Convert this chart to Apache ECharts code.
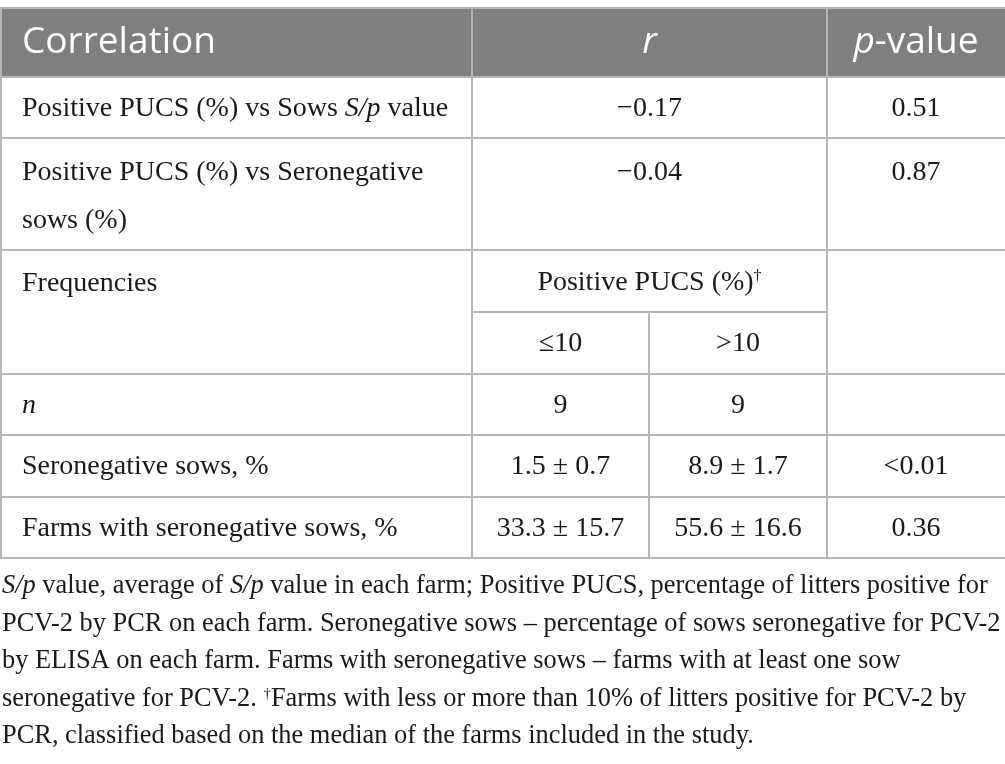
<!DOCTYPE html>
<html>
<head>
<meta charset="utf-8">
<script src="https://cdn.jsdelivr.net/npm/echarts@6/dist/echarts.min.js"></script>
<style>
html, body { margin: 0; padding: 0; background: #fff; }
#main { width: 1005px; height: 764px; }
</style>
</head>
<body>
<div id="main"></div>
<script>
// table content
var headerLabels = ['Correlation', '{i|r}', '{i|p}-value'];
var corrLabels = [
    ['Positive PUCS (%) vs Sows {i|S/p} value'],
    ['Positive PUCS (%) vs Seronegative', 'sows (%)']
];
var corrR = ['\u22120.17', '\u22120.04'];
var corrP = ['0.51', '0.87'];
var freqTitle = 'Frequencies';
var groupTitle = 'Positive PUCS (%){s|\u2020}';
var groupLabels = ['\u226410', '>10'];
var freqLabels = ['{i|n}', 'Seronegative sows, %', 'Farms with seronegative sows, %'];
var lowGroup = ['9', '1.5 \u00b1 0.7', '33.3 \u00b1 15.7'];
var highGroup = ['9', '8.9 \u00b1 1.7', '55.6 \u00b1 16.6'];
var freqP = ['', '<0.01', '0.36'];
var footnoteLines = [
    '{i|S/p} value, average of {i|S/p} value in each farm; Positive PUCS, percentage of litters positive for',
    'PCV-2 by PCR on each farm. Seronegative sows \u2013 percentage of sows seronegative for PCV-2',
    'by ELISA on each farm. Farms with seronegative sows \u2013 farms with at least one sow',
    'seronegative for PCV-2. {s|\u2020}Farms with less or more than 10% of litters positive for PCV-2 by',
    'PCR, classified based on the median of the farms included in the study.'
];

// layout
var SERIF = '"Liberation Serif", "DejaVu Serif", serif';
var SANS = '"Open Sans", "Noto Sans", sans-serif';
var INK = '#1c1919';
var GRID = '#b5b5b5';
var colX = [0, 472, 649, 827, 1005];
var rowY = [8, 77, 138, 250, 374, 435, 497, 558];
var subRowY = 312;
var padL = 22;
var NOTE = 26.4;

var chart = echarts.init(document.getElementById('main'));
var els = [];

function txt(str, x, y, align, size, family, color, rich) {
    els.push({
        type: 'text', x: x, y: y, z: 10,
        style: {
            text: str,
            fill: color, color: color,
            fontSize: size, fontFamily: family,
            align: align, textAlign: align,
            verticalAlign: 'middle', textVerticalAlign: 'middle',
            rich: rich
        }
    });
}

function hline(x1, x2, y, color) {
    els.push({ type: 'line', z: 5, shape: { x1: x1, y1: y, x2: x2, y2: y },
        style: { stroke: color || GRID, lineWidth: 2 } });
}
function vline(x, y1, y2, color) {
    els.push({ type: 'line', z: 5, shape: { x1: x, y1: y1, x2: x, y2: y2 },
        style: { stroke: color || GRID, lineWidth: 2 } });
}

var bodyRich = {
    i: { fontStyle: 'italic', fontSize: 28, fontFamily: SERIF, fill: INK, color: INK },
    s: { fontSize: 16, fontFamily: SERIF, fill: INK, color: INK, padding: [0, 0, 12, 0] }
};
var headRich = {
    i: { fontStyle: 'italic', fontSize: 37, fontFamily: SANS, fill: '#fff', color: '#fff' }
};
var noteRich = {
    i: { fontStyle: 'italic', fontSize: NOTE, fontFamily: SERIF, fill: INK, color: INK },
    s: { fontSize: 15, fontFamily: SERIF, fill: INK, color: INK, padding: [0, 0, 10, 0] }
};

function body(str, x, y, align) { txt(str, x, y, align, 28, SERIF, INK, bodyRich); }

var cR = (colX[1] + colX[3]) / 2;
var cP = (colX[3] + colX[4]) / 2;
var cLow = (colX[1] + colX[2]) / 2;
var cHigh = (colX[2] + colX[3]) / 2;

// header band
els.push({ type: 'rect', z: 1, shape: { x: 0, y: rowY[0], width: colX[4], height: rowY[1] - rowY[0] },
    style: { fill: '#7f7f7f' } });
var headMid = (rowY[0] + rowY[1]) / 2;
txt(headerLabels[0], padL, headMid, 'left', 37, SANS, '#fff', headRich);
txt(headerLabels[1], cR, headMid, 'center', 37, SANS, '#fff', headRich);
txt(headerLabels[2], cP, headMid, 'center', 37, SANS, '#fff', headRich);

// correlation rows
corrLabels.forEach(function (lines, k) {
    var top = rowY[1 + k], bot = rowY[2 + k];
    var first = lines.length > 1 ? top + 34.5 : (top + bot) / 2 + 1;
    lines.forEach(function (ln, j) { body(ln, padL, first + j * 48.5, 'left'); });
    body(corrR[k], cR, first, 'center');
    body(corrP[k], cP, first, 'center');
});

// frequencies header block
body(freqTitle, padL, rowY[3] + 33.5, 'left');
body(groupTitle, cR, (rowY[3] + subRowY) / 2 + 2, 'center');
body(groupLabels[0], cLow, (subRowY + rowY[4]) / 2 + 1, 'center');
body(groupLabels[1], cHigh, (subRowY + rowY[4]) / 2 + 1, 'center');

// frequency rows
freqLabels.forEach(function (lab, k) {
    var mid = (rowY[4 + k] + rowY[5 + k]) / 2 + 1;
    body(lab, padL, mid, 'left');
    body(lowGroup[k], cLow, mid, 'center');
    body(highGroup[k], cHigh, mid, 'center');
    if (freqP[k]) body(freqP[k], cP, mid, 'center');
});

// grid lines
rowY.forEach(function (y) { hline(0, colX[4], y); });
hline(colX[1], colX[3], subRowY);
vline(1, rowY[0], rowY[rowY.length - 1]);
vline(colX[1], rowY[0], rowY[rowY.length - 1]);
vline(colX[3], rowY[0], rowY[rowY.length - 1]);
vline(colX[2], subRowY, rowY[rowY.length - 1]);

// footnote
footnoteLines.forEach(function (ln, k) {
    txt(ln, 2, 586.5 + k * 37.5, 'left', NOTE, SERIF, INK, noteRich);
});

chart.setOption({
    backgroundColor: '#fff',
    animation: false,
    graphic: { elements: els }
});
</script>
</body>
</html>
